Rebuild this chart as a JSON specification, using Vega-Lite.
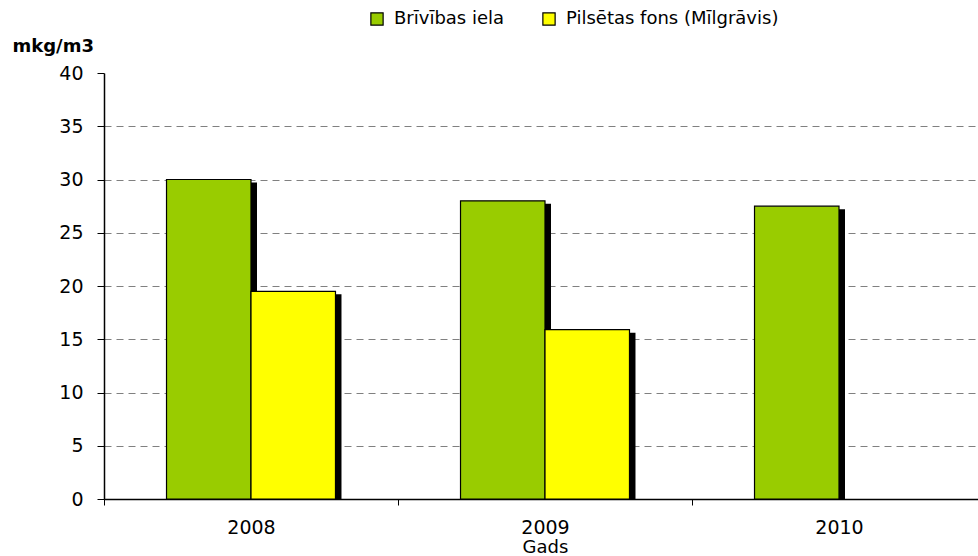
{
  "$schema": "https://vega.github.io/schema/vega-lite/v6.json",
  "width": 882,
  "height": 426,
  "autosize": {"type": "none"},
  "padding": {"left": 104, "top": 73, "right": 0, "bottom": 57},
  "background": "white",
  "config": {
    "view": {"stroke": null},
    "font": "DejaVu Sans",
    "axis": {"labelColor": "black", "titleColor": "black", "domainColor": "black", "tickColor": "black"}
  },
  "data": {
    "values": [
      {"year": "2008", "series": "Brīvības iela", "value": 30},
      {"year": "2008", "series": "Pilsētas fons (Mīlgrāvis)", "value": 19.5},
      {"year": "2009", "series": "Brīvības iela", "value": 28},
      {"year": "2009", "series": "Pilsētas fons (Mīlgrāvis)", "value": 15.9},
      {"year": "2010", "series": "Brīvības iela", "value": 27.5}
    ]
  },
  "encoding": {
    "x": {
      "field": "year",
      "type": "nominal",
      "title": "Gads",
      "scale": {"paddingInner": 0, "paddingOuter": 0},
      "axis": {
        "labelAngle": 0,
        "labelFontSize": 19,
        "labelPadding": 13,
        "tickBand": "extent",
        "tickSize": 6,
        "domainWidth": 1.5,
        "titleFontSize": 18,
        "titleFontWeight": "normal",
        "titleBaseline": "bottom",
        "titleY": 57
      }
    },
    "y": {
      "field": "value",
      "type": "quantitative",
      "title": "mkg/m3",
      "scale": {"domain": [0, 40], "nice": false},
      "axis": {
        "values": [0, 5, 10, 15, 20, 25, 30, 35, 40],
        "labelFontSize": 19,
        "labelPadding": 14,
        "tickSize": 7,
        "domainWidth": 1.5,
        "grid": true,
        "gridColor": "#808080",
        "gridDash": [7, 5],
        "gridWidth": 1,
        "gridOpacity": {"condition": {"test": "datum.value === 40", "value": 0}, "value": 1},
        "titleAngle": 0,
        "titleAlign": "left",
        "titleBaseline": "alphabetic",
        "titleX": -92,
        "titleY": -22,
        "titleFontSize": 18,
        "titleFontWeight": "bold"
      }
    }
  },
  "layer": [
    {
      "mark": {"type": "bar", "color": "black", "yOffset": 3, "clip": true},
      "encoding": {
        "xOffset": {
          "field": "series",
          "scale": {
            "domain": ["Brīvības iela", "Pilsētas fons (Mīlgrāvis)"],
            "paddingInner": 0,
            "paddingOuter": 0.74,
            "align": 0.548
          }
        }
      }
    },
    {
      "mark": {"type": "bar", "stroke": "black", "strokeWidth": 1.2},
      "encoding": {
        "xOffset": {
          "field": "series",
          "scale": {
            "domain": ["Brīvības iela", "Pilsētas fons (Mīlgrāvis)"],
            "paddingInner": 0,
            "paddingOuter": 0.74
          }
        },
        "color": {
          "field": "series",
          "type": "nominal",
          "scale": {
            "domain": ["Brīvības iela", "Pilsētas fons (Mīlgrāvis)"],
            "range": ["#99CC00", "#FFFF00"]
          },
          "legend": {
            "orient": "none",
            "legendX": 264,
            "legendY": -63,
            "direction": "horizontal",
            "title": null,
            "symbolType": "square",
            "symbolSize": 150,
            "symbolStrokeColor": "black",
            "symbolStrokeWidth": 1.2,
            "labelFontSize": 18,
            "labelLimit": 400,
            "labelColor": "black",
            "labelOffset": 8,
            "columnPadding": 35
          }
        }
      }
    }
  ],
  "resolve": {"scale": {"xOffset": "independent"}}
}
